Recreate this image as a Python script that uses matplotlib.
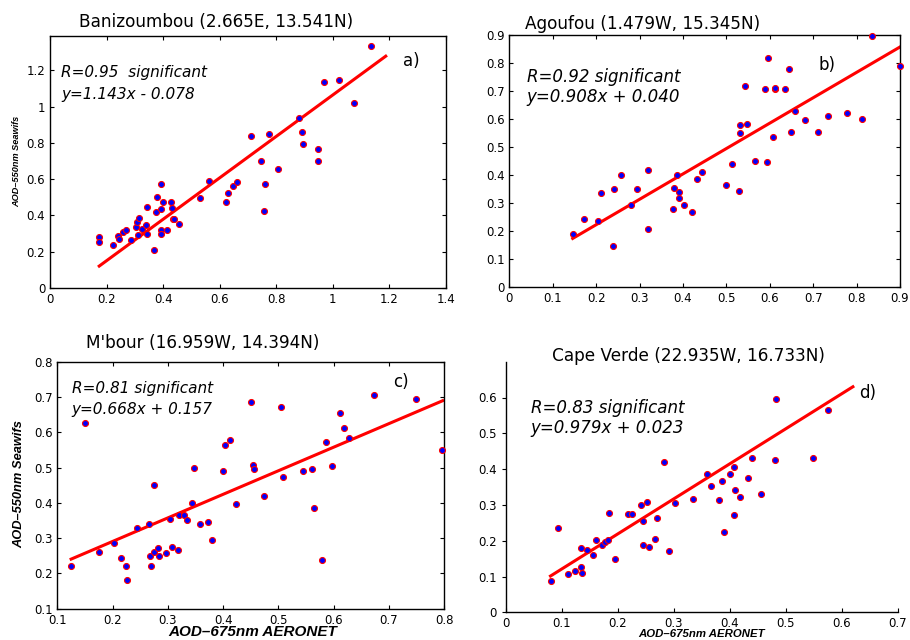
import matplotlib
matplotlib.use("Agg")
import matplotlib.pyplot as plt
import numpy as np

# Panel a: Banizoumbou
a_x = [0.174, 0.174, 0.224, 0.242, 0.244, 0.259, 0.267, 0.286, 0.303, 0.306, 0.316, 0.310,
       0.324, 0.339, 0.343, 0.344, 0.366, 0.375, 0.377, 0.392, 0.394, 0.392, 0.394, 0.399,
       0.414, 0.429, 0.432, 0.435, 0.439, 0.455, 0.529, 0.561, 0.621, 0.628, 0.647, 0.661,
       0.709, 0.747, 0.755, 0.761, 0.775, 0.807, 0.879, 0.891, 0.896, 0.949, 0.949, 0.969,
       1.021, 1.076, 1.136]
a_y = [0.280, 0.252, 0.239, 0.289, 0.271, 0.309, 0.318, 0.265, 0.335, 0.366, 0.387, 0.293,
       0.326, 0.350, 0.300, 0.449, 0.208, 0.418, 0.501, 0.572, 0.438, 0.318, 0.300, 0.475,
       0.322, 0.475, 0.442, 0.383, 0.383, 0.352, 0.495, 0.589, 0.475, 0.525, 0.565, 0.583,
       0.841, 0.701, 0.425, 0.576, 0.850, 0.655, 0.939, 0.863, 0.793, 0.766, 0.701, 1.136,
       1.149, 1.020, 1.333]

# Panel b: Agoufou
b_x = [0.146, 0.173, 0.205, 0.211, 0.239, 0.241, 0.258, 0.281, 0.295, 0.320, 0.320, 0.379,
       0.378, 0.386, 0.392, 0.392, 0.403, 0.421, 0.433, 0.444, 0.499, 0.512, 0.528, 0.531,
       0.532, 0.544, 0.548, 0.566, 0.588, 0.594, 0.595, 0.608, 0.611, 0.613, 0.635, 0.644,
       0.650, 0.658, 0.681, 0.712, 0.735, 0.777, 0.812, 0.835, 0.899]
b_y = [0.187, 0.241, 0.235, 0.334, 0.147, 0.350, 0.400, 0.293, 0.350, 0.418, 0.206, 0.352,
       0.278, 0.400, 0.340, 0.317, 0.291, 0.267, 0.385, 0.410, 0.364, 0.439, 0.343, 0.549,
       0.579, 0.718, 0.582, 0.451, 0.708, 0.445, 0.816, 0.535, 0.708, 0.712, 0.708, 0.780,
       0.552, 0.630, 0.596, 0.553, 0.610, 0.621, 0.598, 0.895, 0.789]

# Panel c: M'bour
c_x = [0.125, 0.151, 0.176, 0.203, 0.216, 0.225, 0.226, 0.245, 0.265, 0.268, 0.270, 0.275,
       0.275, 0.282, 0.284, 0.296, 0.303, 0.307, 0.319, 0.320, 0.330, 0.334, 0.344, 0.347,
       0.358, 0.373, 0.380, 0.399, 0.404, 0.413, 0.424, 0.450, 0.454, 0.456, 0.474, 0.505,
       0.508, 0.544, 0.561, 0.565, 0.578, 0.586, 0.596, 0.611, 0.619, 0.628, 0.672, 0.748,
       0.795]
c_y = [0.221, 0.627, 0.260, 0.285, 0.245, 0.220, 0.180, 0.328, 0.341, 0.250, 0.222, 0.450,
       0.261, 0.271, 0.249, 0.258, 0.353, 0.275, 0.266, 0.365, 0.366, 0.351, 0.400, 0.499,
       0.341, 0.347, 0.296, 0.491, 0.563, 0.578, 0.398, 0.686, 0.508, 0.495, 0.418, 0.672,
       0.474, 0.491, 0.496, 0.384, 0.238, 0.573, 0.503, 0.656, 0.613, 0.583, 0.707, 0.694,
       0.551]

# Panel d: Cape Verde
d_x = [0.080, 0.094, 0.112, 0.123, 0.134, 0.136, 0.134, 0.146, 0.155, 0.161, 0.172, 0.177,
       0.183, 0.185, 0.196, 0.218, 0.226, 0.242, 0.246, 0.246, 0.252, 0.256, 0.267, 0.270,
       0.283, 0.291, 0.302, 0.335, 0.360, 0.367, 0.380, 0.387, 0.389, 0.401, 0.407, 0.408,
       0.410, 0.419, 0.432, 0.440, 0.455, 0.480, 0.483, 0.549, 0.575]
d_y = [0.087, 0.235, 0.108, 0.116, 0.127, 0.111, 0.180, 0.173, 0.159, 0.201, 0.188, 0.197,
       0.202, 0.276, 0.148, 0.275, 0.275, 0.301, 0.256, 0.188, 0.308, 0.182, 0.205, 0.263,
       0.420, 0.170, 0.304, 0.316, 0.386, 0.353, 0.313, 0.367, 0.223, 0.387, 0.407, 0.271,
       0.341, 0.321, 0.376, 0.430, 0.330, 0.426, 0.597, 0.430, 0.566]

titles = ["Banizoumbou (2.665E, 13.541N)", "Agoufou (1.479W, 15.345N)",
          "M'bour (16.959W, 14.394N)", "Cape Verde (22.935W, 16.733N)"]
r_lines = ["R=0.95  significant", "R=0.92 significant",
           "R=0.81 significant", "R=0.83 significant"]
eq_lines = ["y=1.143x - 0.078", "y=0.908x + 0.040",
            "y=0.668x + 0.157", "y=0.979x + 0.023"]
slopes = [1.143, 0.908, 0.668, 0.979]
intercepts = [-0.078, 0.040, 0.157, 0.023]
fit_ranges = [(0.174, 1.187), (0.146, 0.9), (0.125, 0.797), (0.08, 0.62)]
panel_labels = ["a)", "b)", "c)", "d)"]

fig = plt.figure(figsize=(9.1, 6.4), dpi=100)
W, H = 910, 640

def axrect(l, r, t, b):
    return [l / W, 1 - b / H, (r - l) / W, (b - t) / H]

rects = [axrect(50, 446, 36, 288), axrect(509.3, 900, 35, 286.7),
         axrect(57.3, 444.3, 361.7, 608.7), axrect(505.7, 897.7, 361.7, 612.3)]
xlims = [(0, 1.4), (0, 0.9), (0.1, 0.8), (0, 0.7)]
ylims = [(0, 1.39), (0, 0.9), (0.1, 0.8), (0, 0.7)]
xticks = [np.arange(0, 1.41, 0.2), np.arange(0, 0.91, 0.1), np.arange(0.1, 0.81, 0.1), np.arange(0, 0.71, 0.1)]
yticks = [np.arange(0, 1.21, 0.2), np.arange(0, 0.91, 0.1), np.arange(0.1, 0.81, 0.1), np.arange(0, 0.61, 0.1)]
xs = [a_x, b_x, c_x, d_x]
ys = [a_y, b_y, c_y, d_y]
text_x = [0.039, 0.04, 0.126, 0.045]
line1_y = [1.187, 0.751, 0.724, 0.572]
line2_y = [1.0675, 0.677, 0.665, 0.5135]
text_size = [11, 12, 11, 12]
lab_pos = [(1.249, 1.252), (0.712, 0.793), (0.708, 0.743), (0.631, 0.613)]
title_pos = [(216, 22), (643, 24), (203, 343), (688, 356)]

def fmt(v):
    s = ("%.1f" % v)
    if s.endswith(".0"):
        s = s[:-2]
    return s

for i in range(4):
    ax = fig.add_axes(rects[i])
    ax.set_xlim(*xlims[i])
    ax.set_ylim(*ylims[i])
    ax.set_xticks(xticks[i])
    ax.set_yticks(yticks[i])
    ax.set_xticklabels([fmt(v) for v in xticks[i]])
    ax.set_yticklabels([fmt(v) for v in yticks[i]])
    ax.tick_params(labelsize=8.5, length=3, width=0.8)
    if i < 3:
        ax.tick_params(direction="in", top=True, right=True)
    else:
        ax.spines["top"].set_visible(False)
        ax.spines["right"].set_visible(False)
        ax.tick_params(axis="y", direction="out")
        ax.tick_params(axis="x", direction="in")
    for s in ax.spines.values():
        s.set_linewidth(1.0)
    x0, x1 = fit_ranges[i]
    lx = np.array([x0, x1])
    ax.plot(lx, slopes[i] * lx + intercepts[i], color="red", lw=2.2, zorder=2)
    ax.plot(xs[i], ys[i], "o", ms=4.3, mfc="blue", mec="red", mew=0.8, zorder=3,
            clip_on=False)
    ax.text(text_x[i], line1_y[i], r_lines[i], fontsize=text_size[i], style="italic",
            va="center", ha="left")
    ax.text(text_x[i], line2_y[i], eq_lines[i], fontsize=text_size[i], style="italic",
            va="center", ha="left")
    ax.text(lab_pos[i][0], lab_pos[i][1], panel_labels[i], fontsize=12,
            va="center", ha="left")
    fig.text(title_pos[i][0] / W, 1 - title_pos[i][1] / H, titles[i], fontsize=12.2,
             ha="center", va="center")

# axis labels
fig.text(17 / W, 1 - 161 / H, "AOD\u2013550nm Seawifs", rotation=90, fontsize=6.6,
         fontweight="bold", style="italic", family="Liberation Sans", ha="center", va="center")
fig.text(19 / W, 1 - 484 / H, "AOD\u2013550nm Seawifs", rotation=90, fontsize=9.3,
         fontweight="bold", style="italic", family="Liberation Sans", ha="center", va="center")
fig.text(253 / W, 1 - 632 / H, "AOD\u2013675nm AERONET", fontsize=11,
         fontweight="bold", style="italic", family="Liberation Sans", ha="center", va="center")
fig.text(702 / W, 1 - 634 / H, "AOD\u2013675nm AERONET", fontsize=8.2,
         fontweight="bold", style="italic", family="Liberation Sans", ha="center", va="center")

fig.savefig("out.png", dpi=100)
